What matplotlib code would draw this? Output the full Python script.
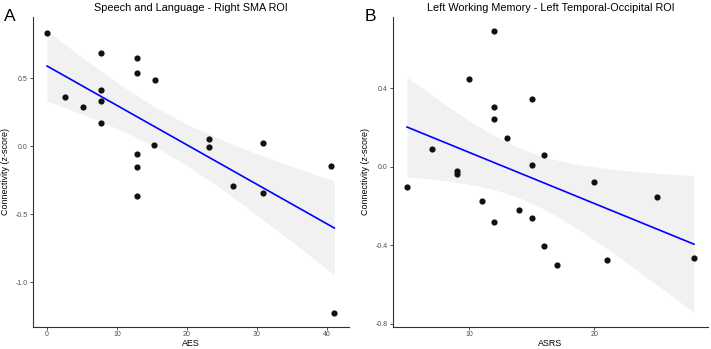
import matplotlib
matplotlib.use("Agg")
import matplotlib.pyplot as plt
import numpy as np

# panel A: Speech and Language - Right SMA ROI
aes = [0.0, 2.6, 5.1, 7.7, 7.7, 7.7, 7.7, 12.8, 12.8, 15.4, 12.8, 12.8, 15.3,
       23.1, 23.1, 30.9, 40.6, 12.8, 26.6, 30.9, 41.1]
conn_a = [0.834, 0.362, 0.285, 0.686, 0.411, 0.333, 0.172, 0.652, 0.537, 0.484,
          -0.061, -0.153, 0.012, 0.051, -0.003, 0.026, -0.149, -0.370, -0.295,
          -0.343, -1.224]

# panel B: Left Working Memory - Left Temporal-Occipital ROI
asrs = [12, 10, 12, 12, 15, 13, 7, 16, 15, 9, 9, 5, 20, 25, 11, 14, 12, 15,
        16, 17, 21, 28]
conn_b = [0.693, 0.449, 0.307, 0.246, 0.344, 0.147, 0.090, 0.059, 0.007, -0.020,
          -0.036, -0.102, -0.075, -0.156, -0.173, -0.220, -0.283, -0.263, -0.403,
          -0.498, -0.475, -0.466]

plt.rcParams['font.family'] = ['Liberation Sans', 'DejaVu Sans']
plt.rcParams['axes.unicode_minus'] = False

T975 = {19: 2.093, 20: 2.086}


def lm_fit(x, y):
    x = np.asarray(x, float)
    y = np.asarray(y, float)
    n = len(x)
    b, a = np.polyfit(x, y, 1)
    res = y - (a + b * x)
    s = np.sqrt(np.sum(res ** 2) / (n - 2))
    sxx = np.sum((x - x.mean()) ** 2)
    xs = np.linspace(x.min(), x.max(), 80)
    fit = a + b * xs
    se = s * np.sqrt(1.0 / n + (xs - x.mean()) ** 2 / sxx)
    t = T975[n - 2]
    return xs, fit, fit - t * se, fit + t * se


def panel(ax, x, y, title, xlabel, xticks, yticks, letter):
    xs, fit, lo, hi = lm_fit(x, y)
    ax.fill_between(xs, lo, hi, color='#f1f1f1', lw=0, zorder=1)
    ax.scatter(x, y, s=20, color='#111111', lw=0, zorder=2)
    ax.plot(xs, fit, color='#0000ff', lw=1.2, zorder=3)
    xr = max(x) - min(x)
    ax.set_xlim(min(x) - 0.05 * xr, max(x) + 0.05 * xr)
    ymin = min(min(y), lo.min())
    ymax = max(max(y), hi.max())
    yr = ymax - ymin
    ax.set_ylim(ymin - 0.05 * yr, ymax + 0.05 * yr)
    ax.set_xticks(xticks)
    ax.set_yticks(yticks)
    ax.set_yticklabels(['%.1f' % v for v in yticks])
    ax.tick_params(labelsize=5.0, labelcolor='#4d4d4d', color='#333333',
                   length=2.2, width=0.6, pad=1.2)
    for sp in ['top', 'right']:
        ax.spines[sp].set_visible(False)
    for sp in ['left', 'bottom']:
        ax.spines[sp].set_linewidth(0.8)
        ax.spines[sp].set_color('#333333')
    ax.set_title(title, fontsize=7.8, pad=4)
    ax.set_xlabel(xlabel, fontsize=6.4, labelpad=0.8)
    ax.set_ylabel('Connectivity (z-score)', fontsize=6.4, labelpad=4)
    ax.text(-0.09, 1.0, letter, transform=ax.transAxes, fontsize=12.5,
            ha='left', va='center')


fig = plt.figure(figsize=(7.11, 3.49), dpi=100)
ax1 = fig.add_axes([0.046, 0.064, 0.4444, 0.888])
ax2 = fig.add_axes([0.5523, 0.064, 0.4439, 0.888])

panel(ax1, aes, conn_a, 'Speech and Language - Right SMA ROI', 'AES',
      [0, 10, 20, 30, 40], [-1.0, -0.5, 0.0, 0.5], 'A')
panel(ax2, asrs, conn_b, 'Left Working Memory - Left Temporal-Occipital ROI',
      'ASRS', [10, 20], [-0.8, -0.4, 0.0, 0.4], 'B')

fig.savefig('out.png', dpi=100)
